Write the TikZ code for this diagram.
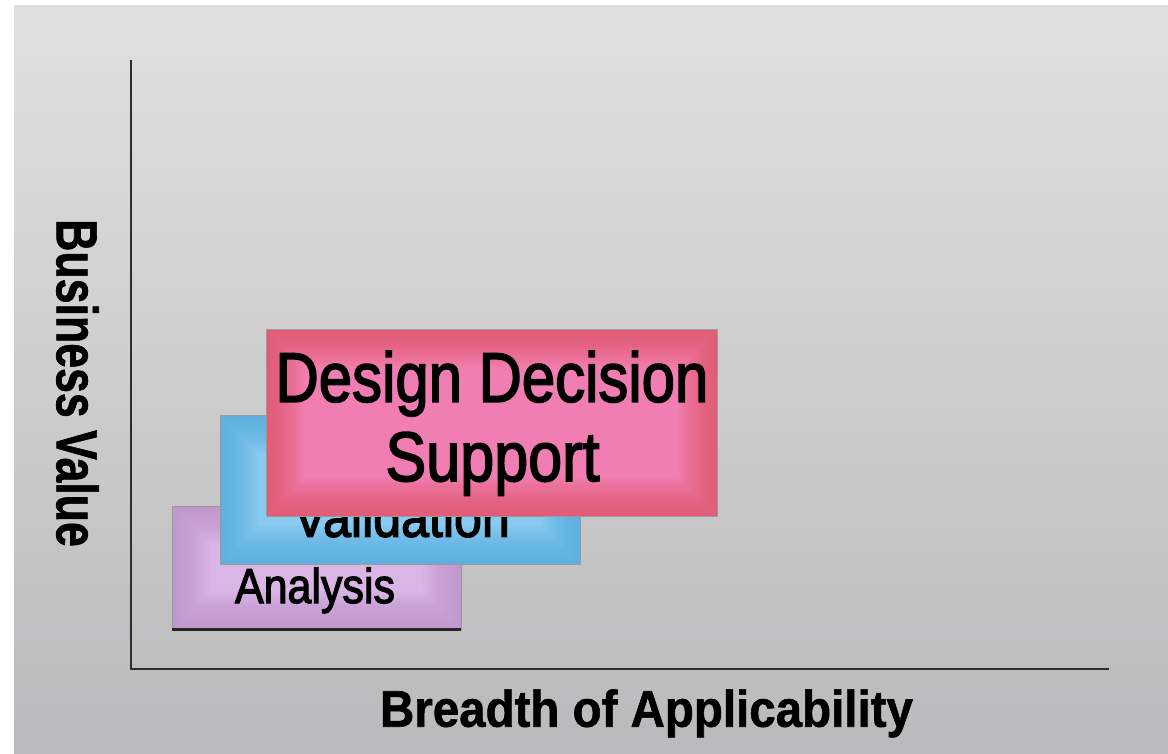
\documentclass[tikz,border=0pt]{standalone}
\usepackage{fontspec}
\setmainfont{Liberation Sans}
\newfontfamily\boxfont[FakeBold=2.5]{Liberation Sans}
\newfontfamily\titlefont[FakeBold=1.2]{Liberation Sans Bold}
\usepackage{graphicx}
\definecolor{bgtop}{RGB}{224,224,224}
\definecolor{bgbot}{RGB}{186,186,188}
\definecolor{pinkin}{RGB}{241,126,178}
\definecolor{pinkout}{RGB}{226,88,108}
\definecolor{bluein}{RGB}{136,202,240}
\definecolor{blueout}{RGB}{88,174,224}
\definecolor{purpin}{RGB}{218,182,230}
\definecolor{purpout}{RGB}{190,148,206}
\definecolor{axiscol}{RGB}{45,45,45}
\newcommand{\glowrect}[2]{%
  \begin{scope}
    \clip (#1.south west) rectangle (#1.north east);
    \foreach \w in {76,72,...,4}{%
      \draw[#2, opacity=0.075, line width=\w pt] (#1.south west) rectangle (#1.north east);}
  \end{scope}
  \draw[black!40, line width=0.8pt] (#1.south west) rectangle (#1.north east);}
\tikzset{
  boxnode/.style={rectangle, inner sep=0pt, outer sep=0pt},
  lbl/.style={inner sep=0pt, outer sep=0pt, text=black},
  axisline/.style={draw=axiscol, line width=2pt}
}
\begin{document}
\begin{tikzpicture}[x=1pt,y=-1pt]
\useasboundingbox (0,0) rectangle (1168,753);
\shade[top color=bgtop, bottom color=bgbot] (14,5) rectangle (1168,753);
% axes
\coordinate (ytop) at (131,60);
\coordinate (orig) at (131,669);
\coordinate (xend) at (1109,669);
\draw[axisline] (ytop) -- (orig) -- (xend);
% Analysis box
\node[boxnode, fill=purpin, minimum width=289pt, minimum height=123pt] (ana) at (316.5,567.5) {};
\glowrect{ana}{purpout}
\draw[line width=3pt, black!85] (ana.south west) -- (ana.south east);
\node[lbl, anchor=base, font=\boxfont\fontsize{49}{49}\selectfont] (anat) at (315,603) {\scalebox{0.877}[1]{Analysis}};
% Validation box
\node[boxnode, fill=bluein, minimum width=360pt, minimum height=149pt] (val) at (400,489.5) {};
\glowrect{val}{blueout}
\node[lbl, anchor=base, font=\boxfont\fontsize{56}{56}\selectfont] (valt) at (401.6,536.7) {\scalebox{0.895}[1]{Validation}};
% Design Decision Support box
\node[boxnode, fill=pinkin, minimum width=451pt, minimum height=187pt] (dds) at (491.5,422.5) {};
\glowrect{dds}{pinkout}
\node[lbl, anchor=base, font=\boxfont\fontsize{70}{70}\selectfont] (ddst1) at (492,401.7) {\scalebox{0.856}[1]{Design Decision}};
\node[lbl, anchor=base, font=\boxfont\fontsize{70}{70}\selectfont] (ddst2) at (492.5,481) {\scalebox{0.873}[1]{Support}};
% axis titles
\node[lbl, rotate=-90, anchor=base, font=\titlefont\fontsize{58}{58}\selectfont] (bv) at (56.7,383) {\scalebox{0.77}[1]{Business Value}};
\node[lbl, anchor=base, font=\titlefont\fontsize{51.5}{51.5}\selectfont] (boa) at (646.5,726.7) {\scalebox{0.922}[1]{Breadth of Applicability}};
\end{tikzpicture}
\end{document}
